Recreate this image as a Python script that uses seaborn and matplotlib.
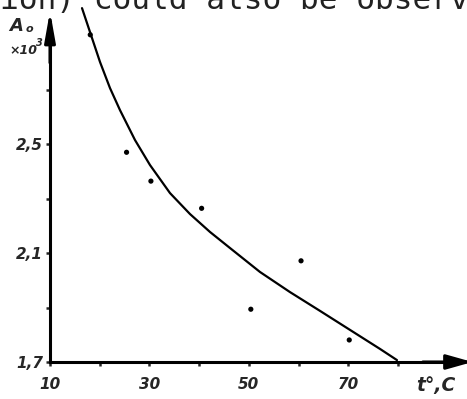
import numpy as np
import pandas as pd
import seaborn as sns
import matplotlib
matplotlib.use("Agg")
import matplotlib.pyplot as plt

# fitted curve
curve_t = [16.44, 18.05, 20.06, 22.07, 24.08, 27.10, 30.12, 34.14, 38.16,
           42.19, 46.21, 52.24, 58.28, 64.31, 70.35, 76.39, 79.80]
curve_a = [3.001, 2.913, 2.803, 2.707, 2.626, 2.516, 2.424, 2.321, 2.244,
           2.178, 2.119, 2.031, 1.957, 1.888, 1.818, 1.748, 1.707]

# measured points
point_t = [18.1, 25.4, 30.3, 40.5, 50.4, 60.5, 70.2]
point_a = [2.903, 2.471, 2.365, 2.265, 1.894, 2.072, 1.781]

x_ticks = [10, 20, 30, 40, 50, 60, 70, 80]
x_labels = ["10", "", "30", "", "50", "", "70", ""]
y_ticks = [1.7, 1.9, 2.1, 2.3, 2.5, 2.7]
y_labels = ["1,7", "", "2,1", "", "2,5", ""]

W, H = 467, 399
sns.set_style("white")
plt.rcParams["font.family"] = ["DejaVu Sans"]

fig = plt.figure(figsize=(W / 100, H / 100), dpi=100)
ax = fig.add_axes([0, 0, 1, 1])

# pixel mapping: t=10 -> 50px, 4.971 px per degree; A=1.7 -> 362px, 272 px per unit
ax.set_xlim(10 - 50 / 4.971, 10 + (W - 50) / 4.971)
ax.set_ylim(1.7 - (H - 362) / 272, 1.7 + 362 / 272)

curve = pd.DataFrame({"t": curve_t, "A": curve_a})
points = pd.DataFrame({"t": point_t, "A": point_a})
sns.lineplot(data=curve, x="t", y="A", ax=ax, color="black", linewidth=1.6, sort=True)
sns.scatterplot(data=points, x="t", y="A", ax=ax, color="black", s=14, edgecolor="none")

for s in ["top", "right"]:
    ax.spines[s].set_visible(False)
ax.spines["left"].set_position(("data", 10))
ax.spines["bottom"].set_position(("data", 1.7))
ax.spines["left"].set_bounds(1.7, 2.95)
ax.spines["bottom"].set_bounds(10, 90)
for s in ["left", "bottom"]:
    ax.spines[s].set_linewidth(2.2)
    ax.spines[s].set_color("black")

tick_font = dict(fontsize=11, fontweight="bold", fontstyle="italic")
ax.set_xticks(x_ticks)
ax.set_xticklabels(x_labels, **tick_font)
ax.set_yticks(y_ticks)
ax.set_yticklabels(y_labels, **tick_font)
ax.tick_params(axis="x", direction="out", length=3, width=1.8, pad=8, bottom=True)
ax.tick_params(axis="y", direction="out", length=3, width=1.8, pad=2, left=True)
ax.set_xlabel("")
ax.set_ylabel("")

# arrow heads
ax.annotate("", xy=(95, 1.7), xytext=(85, 1.7),
            arrowprops=dict(arrowstyle="-|>,head_length=1.6,head_width=0.45",
                            lw=2.2, color="black", shrinkA=0, shrinkB=0),
            annotation_clip=False)
ax.annotate("", xy=(10, 2.99), xytext=(10, 2.8),
            arrowprops=dict(arrowstyle="-|>,head_length=1.8,head_width=0.32",
                            lw=2.2, color="black", shrinkA=0, shrinkB=0),
            annotation_clip=False)

def fpos(x, y):
    return x / W, 1 - y / H

fig.text(*fpos(9, 31), "A", fontsize=13, fontweight="bold", fontstyle="italic", va="baseline")
fig.text(*fpos(26, 32), "o", fontsize=8, fontweight="bold", fontstyle="italic", va="baseline")
fig.text(*fpos(9, 54), "×10", fontsize=9, fontweight="bold", fontstyle="italic", va="baseline")
fig.text(*fpos(36, 46), "3", fontsize=7, fontweight="bold", fontstyle="italic", va="baseline")
fig.text(*fpos(416, 391), "t°,C", fontsize=13.5, fontweight="bold", fontstyle="italic", va="baseline")

# cut-off line of the surrounding document text
fig.text(*fpos(0, 9), "ion) could also be observ", fontsize=22.4,
         family=["DejaVu Sans Mono"], color="#222222", va="baseline")

fig.savefig("out.png", dpi=100)
